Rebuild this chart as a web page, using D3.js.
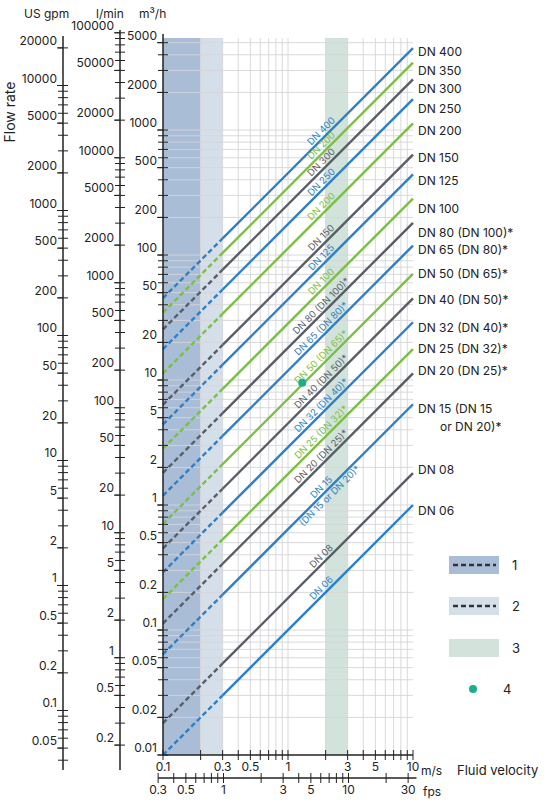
<!DOCTYPE html>
<html><head><meta charset="utf-8">
<script src="https://cdn.jsdelivr.net/npm/d3@7"></script>
<style>body{margin:0;background:#fff;font-family:Inter,"Noto Sans",sans-serif}</style>
</head><body><svg width="546" height="800"></svg>
<script>
// Pipe data: name at right, name along line, colour, flow (m3/h) at 10 m/s
const dnNames = ["DN 400","DN 350","DN 300","DN 250","DN 200","DN 150","DN 125","DN 100","DN 80 (DN 100)*","DN 65 (DN 80)*","DN 50 (DN 65)*","DN 40 (DN 50)*","DN 32 (DN 40)*","DN 25 (DN 32)*","DN 20 (DN 25)*","DN 15 (DN 15","DN 08","DN 06"];
const inlineNames = ["DN 400","DN 200","DN 300","DN 250","DN 200","DN 150","DN 125","DN 100","DN 80 (DN 100)*","DN 65 (DN 80)*","DN 50 (DN 65)*","DN 40 (DN 50)*","DN 32 (DN 40)*","DN 25 (DN 32)*","DN 20 (DN 25)*","DN 15","DN 08","DN 06"];
const lineKinds = ["b","g","k","b","g","k","b","g","k","b","g","k","b","g","k","b","k","b"];
const flowAt10 = [4524,3464,2545,1767,1131,636,442,283,181,119,70.7,45,29,17.7,11.3,6.4,1.8,1.0];
const rightLabelY = [52,71,89,109,131,158,181,209,233,250,274,300,328,349,371,409,470,511];

const m3hTicks = [5000,2000,1000,500,200,100,50,20,10,5,2,1,0.5,0.2,0.1,0.05,0.02,0.01];
const lminTicks = [100000,50000,20000,10000,5000,2000,1000,500,200,100,50,20,10,5,2,1,0.5,0.2];
const gpmTicks = [20000,10000,5000,2000,1000,500,200,100,50,20,10,5,2,1,0.5,0.2,0.1,0.05];
const msTicks = [0.1,0.3,0.5,1,3,5,10];
const fpsTicks = [0.3,0.5,1,3,5,10,30];
const bands = [[0.1,0.2,"#a9bdd7"],[0.2,0.3,"#d5dfea"],[2,3,"#d2e3dc"]];
const point = [1.3, 9.5];

const colors = {b:"#2f7fc6", g:"#7cbf45", k:"#585e66"};
const svg = d3.select("svg");
const pLeft = 163, pRight = 413, pTop = 38, pBottom = 755;

const x = d3.scaleLog().domain([0.1,10]).range([pLeft,pRight]);
const y = d3.scaleLog().domain([0.01,5450]).range([pBottom,pTop]);
const yL = d3.scaleLog().domain([0.01*16.667,5450*16.667]).range([pBottom,pTop]);
const yG = d3.scaleLog().domain([0.01*4.403,5450*4.403]).range([pBottom,pTop]);
const xF = d3.scaleLog().domain([0.1*3.281,10*3.281]).range([pLeft,pRight]);

// bands
bands.forEach(b => svg.append("rect").attr("x",x(b[0])).attr("width",x(b[1])-x(b[0]))
  .attr("y",pTop).attr("height",pBottom-pTop).attr("fill",b[2]));

// grid
const gx = [], gy = [];
for (let e=-1;e<1;e++) for (let m=1;m<10;m++) gx.push(m*10**e);
for (let e=-2;e<4;e++) for (let m=1;m<10;m++) gy.push(m*10**e);
svg.append("g").selectAll("line").data(gx.slice(1)).join("line")
  .attr("x1",d=>x(d)).attr("x2",d=>x(d)).attr("y1",pTop).attr("y2",pBottom)
  .attr("stroke","#d6d6d9").attr("stroke-width",1).attr("opacity",0.9);
svg.append("g").selectAll("line").data(gy.filter(d=>d>0.01 && d<5450)).join("line")
  .attr("x1",pLeft).attr("x2",pRight).attr("y1",d=>y(d)).attr("y2",d=>y(d))
  .attr("stroke","#d6d6d9").attr("stroke-width",1).attr("opacity",0.9);

// pipe lines
flowAt10.forEach((q,i) => {
  const c = colors[lineKinds[i]];
  const f = v => q*v/10;
  svg.append("line").attr("x1",x(0.1)).attr("y1",y(f(0.1))).attr("x2",x(0.3)).attr("y2",y(f(0.3)))
    .attr("stroke",c).attr("stroke-width",2.4).attr("stroke-dasharray","5,3");
  svg.append("line").attr("x1",x(0.3)).attr("y1",y(f(0.3))).attr("x2",x(10)).attr("y2",y(f(10)))
    .attr("stroke",c).attr("stroke-width",2.4);
  const px = x(2), py = y(f(2));
  svg.append("text").attr("transform",`translate(${px},${py}) rotate(-45)`)
    .attr("text-anchor","middle").attr("dy",-3).attr("font-size",9.5).attr("fill",c)
    .text(inlineNames[i]);
  if (i===15) svg.append("text").attr("transform",`translate(${px},${py}) rotate(-45)`)
    .attr("text-anchor","middle").attr("dy",9).attr("font-size",9.5).attr("fill",c)
    .text("(DN 15 or DN 20)*");
  svg.append("text").attr("x",418).attr("y",rightLabelY[i]).attr("dy","0.35em")
    .attr("font-size",12).attr("fill","#222").text(dnNames[i]);
});
svg.append("text").attr("x",440).attr("y",427).attr("dy","0.35em")
  .attr("font-size",12).attr("fill","#222").text("or DN 20)*");

svg.append("circle").attr("cx",x(point[0])).attr("cy",y(point[1])).attr("r",4).attr("fill","#1aaf8b");

// left log axes
function leftAxis(scale, ax, labels, lo, hi) {
  const g = svg.append("g");
  g.append("line").attr("x1",ax).attr("x2",ax).attr("y1",lo).attr("y2",hi).attr("stroke","#222").attr("stroke-width",1.5);
  const [d0,d1] = scale.domain();
  const minors = [];
  for (let e=Math.floor(Math.log10(d0))-1;e<=Math.ceil(Math.log10(d1));e++)
    for (let m=1;m<10;m++) { const p=scale(m*10**e); if (p>=lo && p<=hi) minors.push(p); }
  g.selectAll("line.mn").data(minors).join("line").attr("class","mn").attr("x1",ax-5).attr("x2",ax+5)
    .attr("y1",d=>d).attr("y2",d=>d).attr("stroke","#222");
  labels.forEach(v => {
    const p = scale(v);
    g.append("line").attr("x1",ax-6).attr("x2",ax).attr("y1",p).attr("y2",p).attr("stroke","#222");
    g.append("text").attr("x",ax-6).attr("y",p-3).attr("text-anchor","end")
      .attr("font-size",12).attr("fill","#222").text(v);
  });
}
leftAxis(yG, 63, gpmTicks, 36, 770);
leftAxis(yL, 120, lminTicks, 30, 770);
leftAxis(y, pLeft, m3hTicks, 34, pBottom);

// bottom axes
function bottomAxis(scale, ay, labels, lo, hi) {
  const g = svg.append("g");
  g.append("line").attr("x1",lo).attr("x2",hi).attr("y1",ay).attr("y2",ay).attr("stroke","#222").attr("stroke-width",1.5);
  const [d0,d1] = scale.domain();
  const minors = [];
  for (let e=Math.floor(Math.log10(d0))-1;e<=Math.ceil(Math.log10(d1));e++)
    for (let m=1;m<10;m++) { const p=scale(m*10**e); if (p>=lo-0.5 && p<=hi+0.5) minors.push(p); }
  g.selectAll("line.mn").data(minors).join("line").attr("class","mn").attr("x1",d=>d).attr("x2",d=>d)
    .attr("y1",ay-5).attr("y2",ay+5).attr("stroke","#222");
  labels.forEach(v => g.append("text").attr("x",scale(v)).attr("y",ay+16).attr("text-anchor","middle")
    .attr("font-size",12).attr("fill","#222").text(v));
}
bottomAxis(x, pBottom, msTicks, pLeft, pRight);
bottomAxis(xF, 778, fpsTicks, xF(0.3), xF(35));

// titles
const txt = (tx,ty,s,o={}) => svg.append("text").attr("x",tx).attr("y",ty).attr("font-size",o.fs||12)
  .attr("fill","#222").attr("text-anchor",o.a||"start").text(s);
txt(24,18,"US gpm"); txt(96,18,"l/min"); txt(139,18,"m³/h");
svg.append("text").attr("transform","translate(15,112) rotate(-90)").attr("text-anchor","middle")
  .attr("font-size",14).attr("fill","#222").text("Flow rate");
txt(421,775,"m/s"); txt(457,775,"Fluid velocity",{fs:13}); txt(423,796,"fps");

// legend
const legY = [565,606,648];
bands.forEach((b,i) => {
  svg.append("rect").attr("x",449).attr("y",legY[i]-9).attr("width",50).attr("height",18).attr("fill",b[2]);
  svg.append("text").attr("x",512).attr("y",legY[i]).attr("dy","0.35em").attr("font-size",13).attr("fill","#222").text(i+1);
});
[0,1].forEach(i => svg.append("line").attr("x1",453).attr("x2",496).attr("y1",legY[i]).attr("y2",legY[i])
  .attr("stroke","#333").attr("stroke-width",2.4).attr("stroke-dasharray","5,3"));
svg.append("circle").attr("cx",473).attr("cy",689).attr("r",4).attr("fill","#1aaf8b");
svg.append("text").attr("x",503).attr("y",689).attr("dy","0.35em").attr("font-size",13).attr("fill","#222").text("4");
</script></body></html>
